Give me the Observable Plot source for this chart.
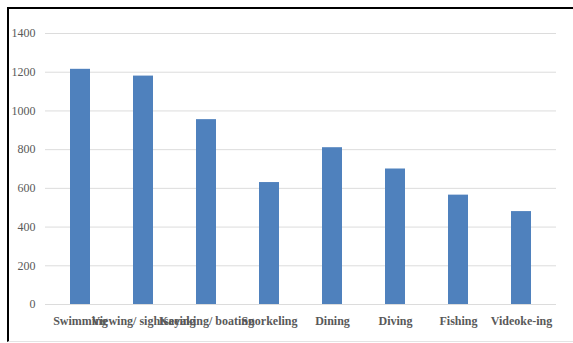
<!DOCTYPE html>
<html>
<head>
<meta charset="utf-8">
<script src="https://cdn.jsdelivr.net/npm/d3@7"></script>
<script src="https://cdn.jsdelivr.net/npm/@observablehq/plot@0.6"></script>
<style>
  html, body { margin: 0; padding: 0; background: #fff; }
  #wrap { position: relative; width: 573px; height: 343px; overflow: hidden; }
  #frame { position: absolute; left: 7px; top: 7px; right: -5px; bottom: 1px;
           border-top: 2px solid #000; border-left: 2px solid #000; border-bottom: 1px solid #e4e4e4; }
  #chart { position: absolute; left: 0; top: 0; }
</style>
</head>
<body>
<div id="wrap"><div id="frame"></div><div id="chart"></div></div>
<script>
const categories = ["Swimming", "Viewing/ sightseeing", "Kayaking/ boating", "Snorkeling", "Dining", "Diving", "Fishing", "Videoke-ing"];
const values = [1215, 1180, 955, 630, 810, 700, 565, 480];
const yTicks = [0, 200, 400, 600, 800, 1000, 1200, 1400];

const data = categories.map((c, i) => ({category: c, value: values[i]}));

const chart = Plot.plot({
  width: 573,
  height: 343,
  marginLeft: 45,
  marginRight: 17,
  marginTop: 33,
  marginBottom: 39,
  style: {background: "transparent", fontFamily: "'Liberation Serif', 'Times New Roman', serif", fontSize: "12px", color: "#595959"},
  x: {domain: categories, paddingInner: 0.69, paddingOuter: 0.345, label: null},
  y: {domain: [0, 1400], label: null},
  marks: [
    Plot.gridY(yTicks, {stroke: "#dcdcdc", strokeOpacity: 1, strokeWidth: 1}),
    Plot.barY(data, {x: "category", y: "value", fill: "#4f81bd"}),
    Plot.axisY(yTicks, {tickSize: 0, tickPadding: 10, fill: "#595959", fontSize: 12, tickFormat: d => String(d)}),
    Plot.axisX({tickSize: 0, tickPadding: 12, fill: "#595959", fontSize: 12, fontWeight: "bold", label: null})
  ]
});
document.getElementById("chart").appendChild(chart);
</script>
</body>
</html>
